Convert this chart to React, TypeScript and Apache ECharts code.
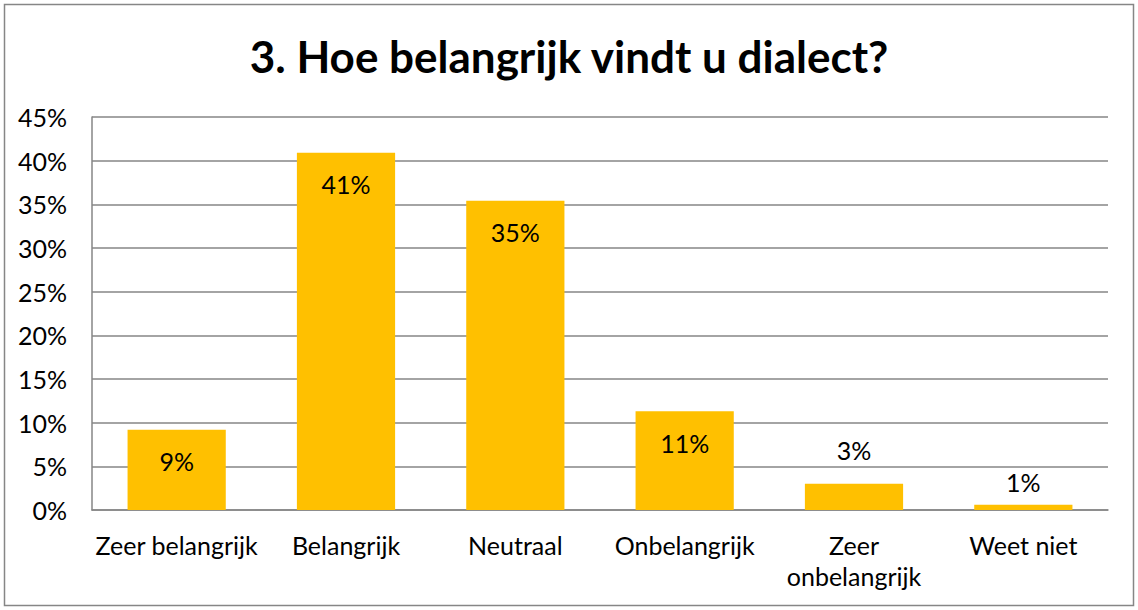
import React, { useEffect, useRef } from "react";
import * as echarts from "echarts";

const categories = ["Zeer belangrijk", "Belangrijk", "Neutraal", "Onbelangrijk", "Zeer\nonbelangrijk", "Weet niet"];
const values = [0.092, 0.409, 0.354, 0.113, 0.030, 0.006];
const labelInside = [true, true, true, true, false, false];
const labelOffsetAbove = [0, 0, 0, 0, 21, 10];
const titleText = "3. Hoe belangrijk vindt u dialect?";

const FONT = "Lato, 'Open Sans', sans-serif";

export default function App() {
  const ref = useRef<HTMLDivElement>(null);
  useEffect(() => {
    if (!ref.current) return;
    const chart = echarts.init(ref.current, null, { renderer: "svg" });
    const data = values.map((v, i) => ({
      value: v,
      label: labelInside[i]
        ? { position: "insideTop", distance: 19 }
        : { position: "top", distance: labelOffsetAbove[i] },
    }));
    chart.setOption({
      animation: false,
      backgroundColor: "#ffffff",
      textStyle: { fontFamily: FONT },
      title: {
        text: titleText,
        left: "center",
        top: 29,
        textStyle: { fontSize: 44, fontWeight: "bold", color: "#000", fontFamily: FONT },
      },
      graphic: [
        {
          type: "rect",
          shape: { x: 4.5, y: 4.5, width: 1129, height: 601 },
          style: { fill: "none", stroke: "#868686", lineWidth: 1.5 },
          silent: true,
        },
      ],
      grid: { left: 92, top: 117, right: 30, bottom: 100 },
      xAxis: {
        type: "category",
        data: categories,
        axisLine: { show: true, lineStyle: { color: "#868686", width: 1.5 } },
        axisTick: { show: false },
        axisLabel: {
          color: "#000",
          fontSize: 25,
          fontFamily: FONT,
          margin: 19,
          lineHeight: 31,
          interval: 0,
        },
      },
      yAxis: {
        type: "value",
        min: 0,
        max: 0.45,
        interval: 0.05,
        axisLine: { show: true, lineStyle: { color: "#868686", width: 1.5 } },
        axisTick: { show: false },
        splitLine: { lineStyle: { color: "#868686", width: 1.5 } },
        axisLabel: {
          color: "#000",
          fontSize: 25,
          fontFamily: FONT,
          margin: 25,
          formatter: (v: number) => Math.round(v * 100) + "%",
        },
      },
      series: [
        {
          type: "bar",
          data,
          barWidth: "58%",
          itemStyle: { color: "#FFC000" },
          label: {
            show: true,
            color: "#000",
            fontSize: 25,
            fontFamily: FONT,
            formatter: (p: any) => Math.round(p.value * 100) + "%",
          },
        },
      ],
    });
    return () => chart.dispose();
  }, []);
  return (
    <div
      ref={ref}
      style={{ position: "fixed", left: 0, top: 0, width: 1138, height: 610 }}
    />
  );
}
